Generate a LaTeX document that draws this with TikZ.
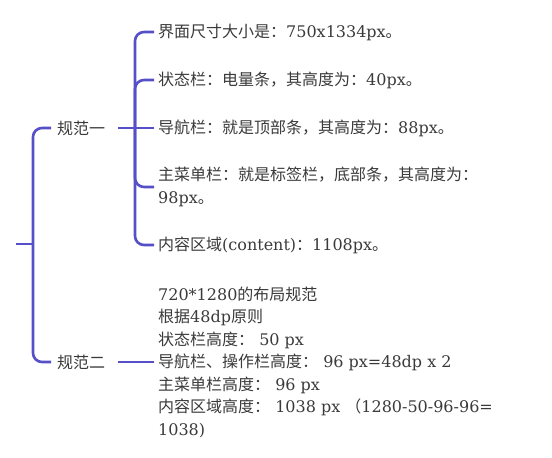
\documentclass[tikz,border=0pt]{standalone}
\usepackage{fontspec}
\setmainfont{DejaVu Serif}
\newfontfamily\zhfont{Noto Sans CJK SC}
\newcommand\zh[1]{{\zhfont #1}}
\definecolor{linkblue}{RGB}{86,80,200}
\definecolor{txtgray}{RGB}{58,58,58}
\tikzset{
  link/.style={-,line width=2.6pt,linkblue,rounded corners=9pt},
  topic/.style={anchor=west,inner xsep=6pt,inner ysep=2pt,text=txtgray,font=\fontsize{16}{22.5}\selectfont},
  leaf/.style={topic,align=left,inner xsep=4pt},
}
\begin{document}
\begin{tikzpicture}[x=1pt,y=-1pt]

\useasboundingbox (0,0) rectangle (552,458);

\coordinate (root) at (16,244);
\coordinate (f0) at (33,244);
\coordinate (f1) at (135,128);

\node [topic] (g1) at (51,128) {\zh{规范一}};
\node [topic] (g2) at (51,362) {\zh{规范二}};

\node [leaf] (sz) at (154,32) {\zh{界面尺寸大小是：}750x1334px\zh{。}};
\node [leaf] (zt) at (154,80) {\zh{状态栏：电量条，其高度为：}40px\zh{。}};
\node [leaf] (dh) at (154,128) {\zh{导航栏：就是顶部条，其高度为：}88px\zh{。}};
\node [leaf] (cd) at (154,187) {\zh{主菜单栏：就是标签栏，底部条，其高度为：}\\98px\zh{。}};
\node [leaf] (nr) at (154,245) {\zh{内容区域}(content)\zh{：}1108px\zh{。}};

\node [leaf] (gf) at (154,362) {720*1280\zh{的布局规范}\\
  \zh{根据}48dp\zh{原则}\\
  \zh{状态栏高度：} 50 px\\
  \zh{导航栏、操作栏高度：} 96 px=48dp x 2\\
  \zh{主菜单栏高度：} 96 px\\
  \zh{内容区域高度：} 1038 px \zh{（}1280-50-96-96=\\
  1038)};

% 根
\draw [link] (root) -- (f0);
\draw [link] (f0) |- (g1.west);
\draw [link] (f0) |- (g2.west);

% 规范一
\draw [link,shorten <=7pt] (g1.east) -- (f1);
\draw [link] (f1) |- (sz.west);
\draw [link] (f1) |- (zt.west);
\draw [link] (f1) -- (dh.west);
\draw [link] (f1) |- (cd.west);
\draw [link] (f1) |- (nr.west);

% 规范二
\draw [link,shorten <=7pt] (g2.east) -- (gf.west);

\end{tikzpicture}
\end{document}
